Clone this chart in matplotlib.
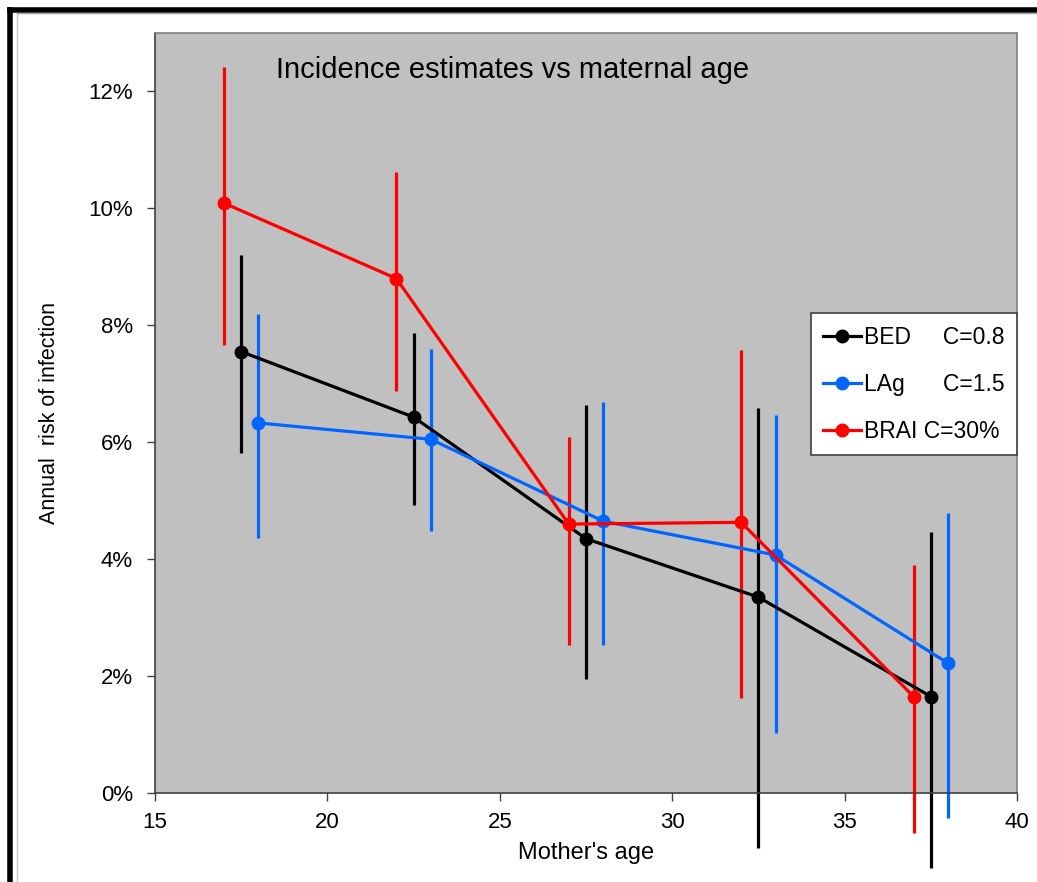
import matplotlib
matplotlib.use("Agg")
import matplotlib.pyplot as plt
from matplotlib.ticker import FuncFormatter
from matplotlib.lines import Line2D

plt.rcParams['font.family'] = ['Liberation Sans', 'DejaVu Sans']

# Mother's age groups (offset per method so the error bars don't overlap)
bed_age = [17.5, 22.5, 27.5, 32.5, 37.5]
lag_age = [18, 23, 28, 33, 38]
brai_age = [17, 22, 27, 32, 37]

# Annual risk of infection (%) with lower / upper confidence limits
bed_risk = [7.55, 6.43, 4.35, 3.35, 1.65]
bed_low = [5.81, 4.92, 1.95, -0.94, -1.28]
bed_high = [9.20, 7.86, 6.63, 6.58, 4.46]

lag_risk = [6.33, 6.05, 4.65, 4.07, 2.22]
lag_low = [4.36, 4.48, 2.53, 1.03, -0.43]
lag_high = [8.20, 7.59, 6.68, 6.46, 4.79]

brai_risk = [10.09, 8.80, 4.60, 4.63, 1.65]
brai_low = [7.66, 6.87, 2.53, 1.62, -0.68]
brai_high = [12.41, 10.63, 6.09, 7.57, 3.90]

series = [
    ("BED     C=0.8", bed_age, bed_risk, bed_low, bed_high, "#000000"),
    ("LAg      C=1.5", lag_age, lag_risk, lag_low, lag_high, "#0066FF"),
    ("BRAI C=30%", brai_age, brai_risk, brai_low, brai_high, "#FF0000"),
]

W, H = 1037, 882
fig = plt.figure(figsize=(W / 100, H / 100), dpi=100)
ax = fig.add_axes([155 / W, 1 - 793 / H, (1017 - 155) / W, (793 - 33) / H])
ax.set_facecolor("#C0C0C0")

handles = []
for label, x, y, lo, hi, col in series:
    ax.vlines(x, lo, hi, colors=col, linewidth=2.3, clip_on=False, zorder=2)
    ln, = ax.plot(x, y, color=col, linewidth=2.3, marker="o", markersize=9,
                  zorder=3, clip_on=False, label=label)
    handles.append(ln)

ax.set_xlim(15, 40)
ax.set_ylim(0, 13)
ax.set_xticks([15, 20, 25, 30, 35, 40])
ax.set_yticks([0, 2, 4, 6, 8, 10, 12])
ax.yaxis.set_major_formatter(FuncFormatter(lambda v, p: f"{v:.0f}%"))
ax.tick_params(direction="out", length=6, width=1, colors="#404040",
               labelcolor="black", labelsize=16)
ax.tick_params(axis="y", pad=10)
ax.tick_params(axis="x", pad=8)
for s in ax.spines.values():
    s.set_color("#808080")
    s.set_linewidth(1.2)
ax.spines["left"].set_color("#404040")
ax.spines["bottom"].set_color("#404040")

ax.set_xlabel("Mother's age", fontsize=17, labelpad=6)
ax.set_ylabel("Annual  risk of infection", fontsize=15.5, labelpad=20)
ax.text((276 - 155) / 862, 0.951, "Incidence estimates vs maternal age",
        transform=ax.transAxes, fontsize=21, ha="left", va="center")

leg = ax.legend(handles=handles, loc="upper right", bbox_to_anchor=(1.0, (793 - 313) / 760),
                fontsize=16.5, frameon=True, fancybox=False, framealpha=1,
                edgecolor="#404040", handlelength=1.65, handletextpad=0.12,
                labelspacing=1.05, borderpad=0.55, borderaxespad=0)
leg.get_frame().set_linewidth(1.2)

# Outer frame of the figure
fig.add_artist(Line2D([10 / W, 10 / W], [0, 1 - 10 / H], color="black",
                      linewidth=4, transform=fig.transFigure))
fig.add_artist(Line2D([10 / W, 1], [1 - 10 / H, 1 - 10 / H], color="black",
                      linewidth=4, transform=fig.transFigure))
fig.add_artist(Line2D([17 / W, 17 / W], [0, 1 - 13 / H], color="#C8C8C8",
                      linewidth=1, transform=fig.transFigure))
fig.add_artist(Line2D([17 / W, 1], [1 - 13 / H, 1 - 13 / H], color="#A0A0A0",
                      linewidth=1, transform=fig.transFigure))

fig.savefig("out.png", dpi=100)
